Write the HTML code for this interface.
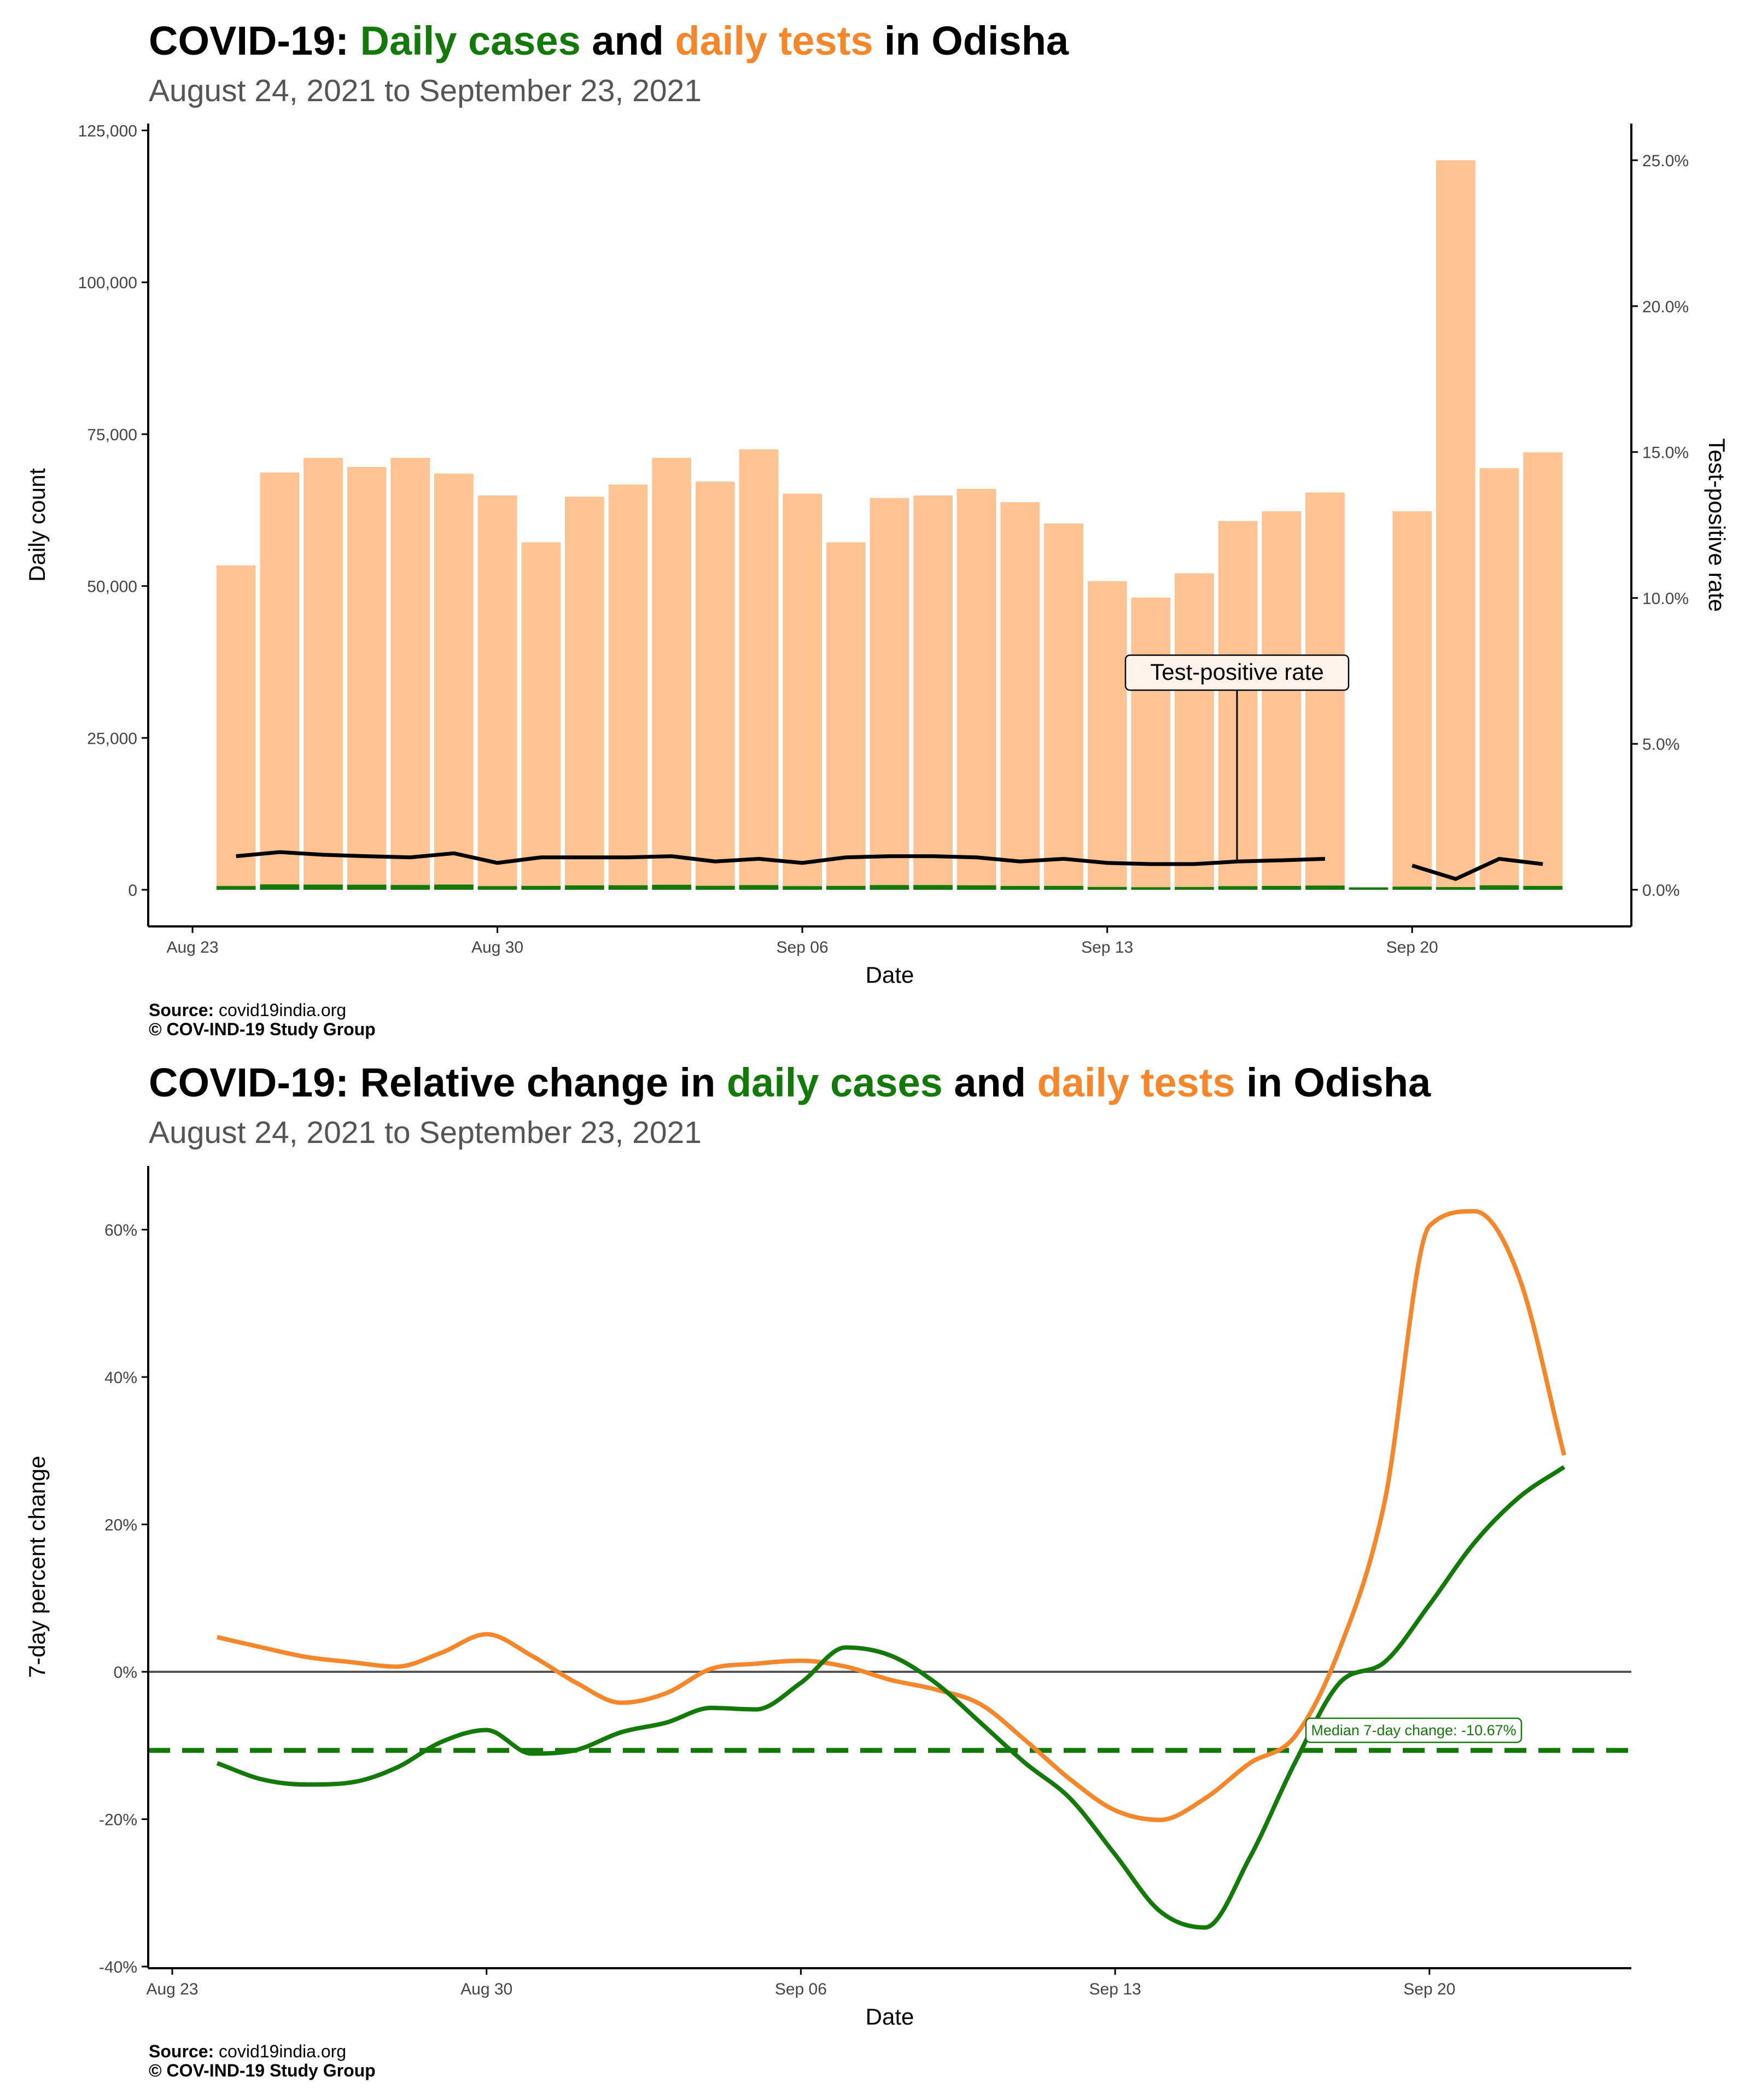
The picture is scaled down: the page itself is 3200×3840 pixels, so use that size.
<!DOCTYPE html>
<html><head><meta charset="utf-8"><style>
html,body{margin:0;padding:0;background:#fff}
svg{display:block;font-family:"Liberation Sans",sans-serif}
</style></head><body>
<svg id="c" width="3200" height="3840" viewBox="0 0 3200 3840" xmlns="http://www.w3.org/2000/svg">
<g>
<text x="272" y="100" font-size="74" font-weight="bold">COVID-19: <tspan fill="#137a0a">Daily cases</tspan> and <tspan fill="#f5862a">daily tests</tspan> in Odisha</text>
<text x="272" y="185" font-size="57" fill="#555">August 24, 2021 to September 23, 2021</text>
</g>
<g id="top"></g>
<text x="272" y="1858" font-size="32"><tspan font-weight="bold">Source:</tspan> covid19india.org</text>
<text x="272" y="1893" font-size="32" font-weight="bold">© COV-IND-19 Study Group</text>
<g>
<text x="272" y="2005" font-size="74" font-weight="bold">COVID-19: Relative change in <tspan fill="#137a0a">daily cases</tspan> and <tspan fill="#f5862a">daily tests</tspan> in Odisha</text>
<text x="272" y="2090" font-size="57" fill="#555">August 24, 2021 to September 23, 2021</text>
</g>
<g id="bot"></g>
<text x="272" y="3762" font-size="32"><tspan font-weight="bold">Source:</tspan> covid19india.org</text>
<text x="272" y="3797" font-size="32" font-weight="bold">© COV-IND-19 Study Group</text>
</svg>
<script>
// day index 1 = Aug 24 (0 = Aug 23)
const days = [1,2,3,4,5,6,7,8,9,10,11,12,13,14,15,16,17,18,19,20,21,22,23,24,25,26,27,28,29,30,31];
const tests = [53400,68700,71100,69600,71100,68500,64900,57200,64700,66700,71100,67200,72500,65200,57200,64500,64900,66000,63800,60300,50800,48100,52100,60700,62300,65400,0,62300,120100,69400,72000];
const cases = [614,886,853,835,790,856,597,635,718,740,818,652,768,600,635,774,779,733,619,639,467,423,458,589,629,693,400,517,444,736,634];
const tpr = [1.15,1.29,1.20,1.15,1.11,1.25,0.92,1.11,1.11,1.11,1.15,0.97,1.06,0.92,1.11,1.15,1.15,1.11,0.97,1.06,0.92,0.88,0.88,0.97,1.01,1.06,null,0.83,0.37,1.06,0.88];
const countTicks = [0,25000,50000,75000,100000,125000];
const countTickLabels = ["0","25,000","50,000","75,000","100,000","125,000"];
const tprTicks = [0,5,10,15,20,25];
const tprTickLabels = ["0.0%","5.0%","10.0%","15.0%","20.0%","25.0%"];
const dateTicks = [0,7,14,21,28];
const dateTickLabels = ["Aug 23","Aug 30","Sep 06","Sep 13","Sep 20"];
const pctTests = [4.7,3.3,2.0,1.3,0.7,2.6,5.1,2.2,-1.5,-4.2,-2.9,0.4,1.1,1.5,0.7,-1.1,-2.4,-4.4,-9.3,-14.6,-18.8,-20.1,-17.2,-12.4,-8.8,3.1,23.0,60.5,62.5,53.5,29.4];
const pctCases = [-12.4,-14.6,-15.3,-15.0,-13.0,-9.5,-7.9,-11.1,-10.6,-8.2,-6.9,-4.9,-5.1,-1.5,3.3,2.2,-1.5,-6.9,-12.4,-17.2,-24.8,-32.5,-34.7,-25.2,-12.4,-1.5,1.3,9.1,17.5,23.7,27.8];
const pctTicks = [-40,-20,0,20,40,60];
const pctTickLabels = ["-40%","-20%","0%","20%","40%","60%"];
const medianChange = -10.67;

const NS="http://www.w3.org/2000/svg";
function mk(parent,tag,attrs,text){const e=document.createElementNS(NS,tag);for(const k in attrs)e.setAttribute(k,attrs[k]);if(text!==undefined)e.textContent=text;parent.appendChild(e);return e;}
// monotone cubic (Fritsch-Carlson)
function smooth(pts){const n=pts.length;const dx=[],m=[],t=[];
 for(let i=0;i<n-1;i++){dx.push(pts[i+1][0]-pts[i][0]);m.push((pts[i+1][1]-pts[i][1])/dx[i]);}
 t[0]=m[0];t[n-1]=m[n-2];
 for(let i=1;i<n-1;i++){t[i]=(m[i-1]*m[i]<=0)?0:(m[i-1]+m[i])/2;}
 for(let i=0;i<n-1;i++){if(m[i]===0){t[i]=0;t[i+1]=0;continue;}const a=t[i]/m[i],b=t[i+1]/m[i],s=a*a+b*b;if(s>9){const k=3/Math.sqrt(s);t[i]=k*a*m[i];t[i+1]=k*b*m[i];}}
 let d="M"+pts[0][0]+","+pts[0][1];
 for(let i=0;i<n-1;i++){const h=dx[i]/3;d+=" C"+(pts[i][0]+h)+","+(pts[i][1]+t[i]*h)+" "+(pts[i+1][0]-h)+","+(pts[i+1][1]-t[i+1]*h)+" "+pts[i+1][0]+","+pts[i+1][1];}
 return d;}

// ---------- TOP ----------
(function(){
const g=document.getElementById('top');
const L=271,R=2983,T=226,B=1694;
const x=d=>352+d*79.65;
const y=v=>1627-v*277.7/25000;
const y2=p=>1627-p*266.8/5;
const bw=71.7;
days.forEach((d,i)=>{
 if(tests[i]>0){const r=mk(g,'rect',{x:x(d)-bw/2,y:y(tests[i]),width:bw,height:y(0)-y(tests[i]),fill:'#fec393'});
 
 }
 const c=mk(g,'rect',{x:x(d)-bw/2,y:y(cases[i]),width:bw,height:y(0)-y(cases[i]),fill:'#137a0a'});
 
 
});
let seg=[];const segs=[];
days.forEach((d,i)=>{if(tpr[i]===null){if(seg.length)segs.push(seg);seg=[];}else seg.push([x(d),y2(tpr[i])]);});
if(seg.length)segs.push(seg);
segs.forEach(s=>{const p=mk(g,'polyline',{points:s.map(q=>q.join(',')).join(' '),fill:'none',stroke:'#000','stroke-width':7,'stroke-linejoin':'round'});
 
 });
const ax=2262;
mk(g,'line',{x1:ax,y1:1262,x2:ax,y2:1578,stroke:'#000','stroke-width':3,});
mk(g,'rect',{x:2058,y:1198,width:408,height:64,rx:8,fill:'#fff2ea',stroke:'#000','stroke-width':2.5,});
mk(g,'text',{x:2262,y:1243,'font-size':42,'text-anchor':'middle',},'Test-positive rate');
mk(g,'line',{x1:L,y1:T,x2:L,y2:B,stroke:'#000','stroke-width':4,});
mk(g,'line',{x1:R,y1:T,x2:R,y2:B,stroke:'#000','stroke-width':4,});
mk(g,'line',{x1:L,y1:B,x2:R,y2:B,stroke:'#000','stroke-width':4,});
countTicks.forEach((v,i)=>{mk(g,'line',{x1:L-12,y1:y(v),x2:L,y2:y(v),stroke:'#000','stroke-width':3});
 const t=mk(g,'text',{x:L-20,y:y(v)+11,'font-size':30,fill:'#444','text-anchor':'end'},countTickLabels[i]);
 
 });
tprTicks.forEach((v,i)=>{mk(g,'line',{x1:R,y1:y2(v),x2:R+12,y2:y2(v),stroke:'#000','stroke-width':3});
 const t=mk(g,'text',{x:R+20,y:y2(v)+11,'font-size':30,fill:'#444'},tprTickLabels[i]);
 
 });
dateTicks.forEach((d,i)=>{mk(g,'line',{x1:x(d),y1:B,x2:x(d),y2:B+12,stroke:'#000','stroke-width':3});
 const t=mk(g,'text',{x:x(d),y:B+48,'font-size':30,fill:'#444','text-anchor':'middle'},dateTickLabels[i]);
 
 });
mk(g,'text',{x:1627,y:1797,'font-size':42,'text-anchor':'middle',},'Date');
mk(g,'text',{x:0,y:0,'font-size':42,'text-anchor':'middle',transform:'translate(82,960) rotate(-90)',},'Daily count');
mk(g,'text',{x:0,y:0,'font-size':42,'text-anchor':'middle',transform:'translate(3125,960) rotate(90)',},'Test-positive rate');
})();

// ---------- BOTTOM ----------
(function(){
const g=document.getElementById('bot');
const L=271,R=2983,T=2132,B=3599;
const x=d=>315+d*82.1;
const y=p=>3057-p*269.5/20;
mk(g,'line',{x1:L,y1:y(0),x2:R,y2:y(0),stroke:'#555','stroke-width':4,});
mk(g,'line',{x1:L,y1:y(medianChange),x2:R,y2:y(medianChange),stroke:'#137a0a','stroke-width':9,'stroke-dasharray':'40 22',});
const pt=mk(g,'path',{d:smooth(days.map((d,i)=>[x(d),y(pctTests[i])])),fill:'none',stroke:'#f5862a','stroke-width':8,'stroke-linejoin':'round'});


const pc=mk(g,'path',{d:smooth(days.map((d,i)=>[x(d),y(pctCases[i])])),fill:'none',stroke:'#137a0a','stroke-width':8,'stroke-linejoin':'round'});


mk(g,'rect',{x:2388,y:3142,width:394,height:44,rx:8,fill:'#fff',stroke:'#137a0a','stroke-width':2.5,});
mk(g,'text',{x:2585,y:3173,'font-size':27,fill:'#137a0a','text-anchor':'middle',},'Median 7-day change: -10.67%');
mk(g,'line',{x1:L,y1:T,x2:L,y2:B,stroke:'#000','stroke-width':4,});
mk(g,'line',{x1:L,y1:B,x2:R,y2:B,stroke:'#000','stroke-width':4,});
pctTicks.forEach((v,i)=>{mk(g,'line',{x1:L-12,y1:y(v),x2:L,y2:y(v),stroke:'#000','stroke-width':3});
 const t=mk(g,'text',{x:L-20,y:y(v)+11,'font-size':30,fill:'#444','text-anchor':'end'},pctTickLabels[i]);
 
 });
dateTicks.forEach((d,i)=>{mk(g,'line',{x1:x(d),y1:B,x2:x(d),y2:B+12,stroke:'#000','stroke-width':3});
 const t=mk(g,'text',{x:x(d),y:B+48,'font-size':30,fill:'#444','text-anchor':'middle'},dateTickLabels[i]);
 
 });
mk(g,'text',{x:1627,y:3702,'font-size':42,'text-anchor':'middle',},'Date');
mk(g,'text',{x:0,y:0,'font-size':42,'text-anchor':'middle',transform:'translate(82,2865) rotate(-90)',},'7-day percent change');
})();
</script>
</body></html>
